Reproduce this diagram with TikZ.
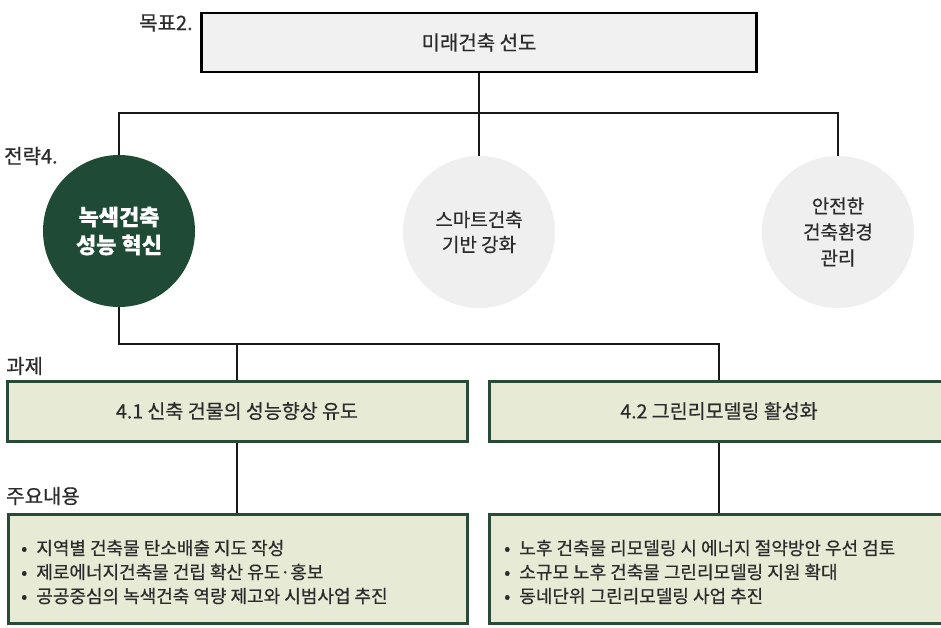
\documentclass[tikz,border=0pt]{standalone}
\usepackage{fontspec}
\setmainfont{Noto Sans CJK KR}[FakeBold=0.5]
\definecolor{dkgreen}{HTML}{1F4A36}
\definecolor{boxgreen}{HTML}{2A4A38}
\definecolor{paleg}{HTML}{E7EBD6}
\definecolor{topgray}{HTML}{F1F1F1}
\definecolor{cgray}{HTML}{EFEFEF}
\definecolor{txt}{HTML}{2B2B2B}
\tikzset{
  conn/.style={draw=black!90, line width=1.8pt},
  topbox/.style={draw=black, line width=2.4pt, fill=topgray, minimum width=555pt, minimum height=59pt, inner sep=0pt, text=txt, font=\fontsize{20}{24}\selectfont},
  taskbox/.style={draw=boxgreen, line width=3pt, fill=paleg, minimum width=460pt, minimum height=60pt, inner sep=0pt, text=txt, font=\fontsize{19.5}{24}\selectfont},
  contbox/.style={draw=boxgreen, line width=3pt, fill=paleg, minimum width=459pt, minimum height=109pt, inner sep=0pt},
  circ/.style={circle, minimum size=152pt, inner sep=0pt, align=center},
  lab/.style={anchor=west, inner sep=0pt, text=txt, font=\fontsize{20}{24}\selectfont},
  bullets/.style={anchor=west, inner sep=0pt, align=left, text=txt, font=\fontsize{18}{24}\selectfont}
}
\begin{document}
\begin{tikzpicture}[x=1pt,y=-1pt]
\useasboundingbox (0,0) rectangle (941,627);
\clip (0,0) rectangle (941,627);
\fill[white] (0,0) rectangle (941,627);

% level 1
\node[topbox] (goal) at (479,42.5) {미래건축 선도};
\node[lab] (lgoal) at (139,23) {목표2.};

% strategies
\node[circ, fill=dkgreen, text=white, font=\bfseries\fontsize{22}{28}\selectfont] (s1) at (119,231) {녹색건축\\성능 혁신};
\node[circ, fill=cgray, text=txt, font=\fontsize{19}{25}\selectfont] (s2) at (479,232) {스마트건축\\기반 강화};
\node[circ, fill=cgray, text=txt, font=\fontsize{19}{26}\selectfont] (s3) at (838,232) {안전한\\건축환경\\관리};
\node[lab] (lstr) at (4,156) {전략4.};

\coordinate (j0) at (479,113);
\draw[conn] (goal.south) -- (j0);
\draw[conn] (s1.north) -- (s1.north |- j0) -- (s3.north |- j0) -- (s3.north);
\draw[conn] (j0) -- (s2.north);

% tasks
\node[taskbox] (t1) at (237,411) {4.1 신축 건물의 성능향상 유도};
\node[taskbox] (t2) at (719,411) {4.2 그린리모델링 활성화};
\node[lab] (ltask) at (6,366) {과제};

\coordinate (j1) at (119,344);
\draw[conn] (s1.south) -- (j1) -- (t2.north |- j1) -- (t2.north);
\draw[conn] (t1.north |- j1) -- (t1.north);

% contents
\node[contbox] (c1) at (237.5,568.5) {};
\node[contbox] (c2) at (719,568.5) {};
\node[lab] (lcont) at (6,496) {주요내용};

\draw[conn] (t1.south) -- (t1.south |- c1.north);
\draw[conn] (t2.south) -- (t2.south |- c2.north);

\node[bullets] (b1) at (21,572) {•\enspace 지역별 건축물 탄소배출 지도 작성\\•\enspace 제로에너지건축물 건립 확산 유도·홍보\\•\enspace 공공중심의 녹색건축 역량 제고와 시범사업 추진};
\node[bullets] (b2) at (504,572) {•\enspace 노후 건축물 리모델링 시 에너지 절약방안 우선 검토\\•\enspace 소규모 노후 건축물 그린리모델링 지원 확대\\•\enspace 동네단위 그린리모델링 사업 추진};
\end{tikzpicture}
\end{document}
